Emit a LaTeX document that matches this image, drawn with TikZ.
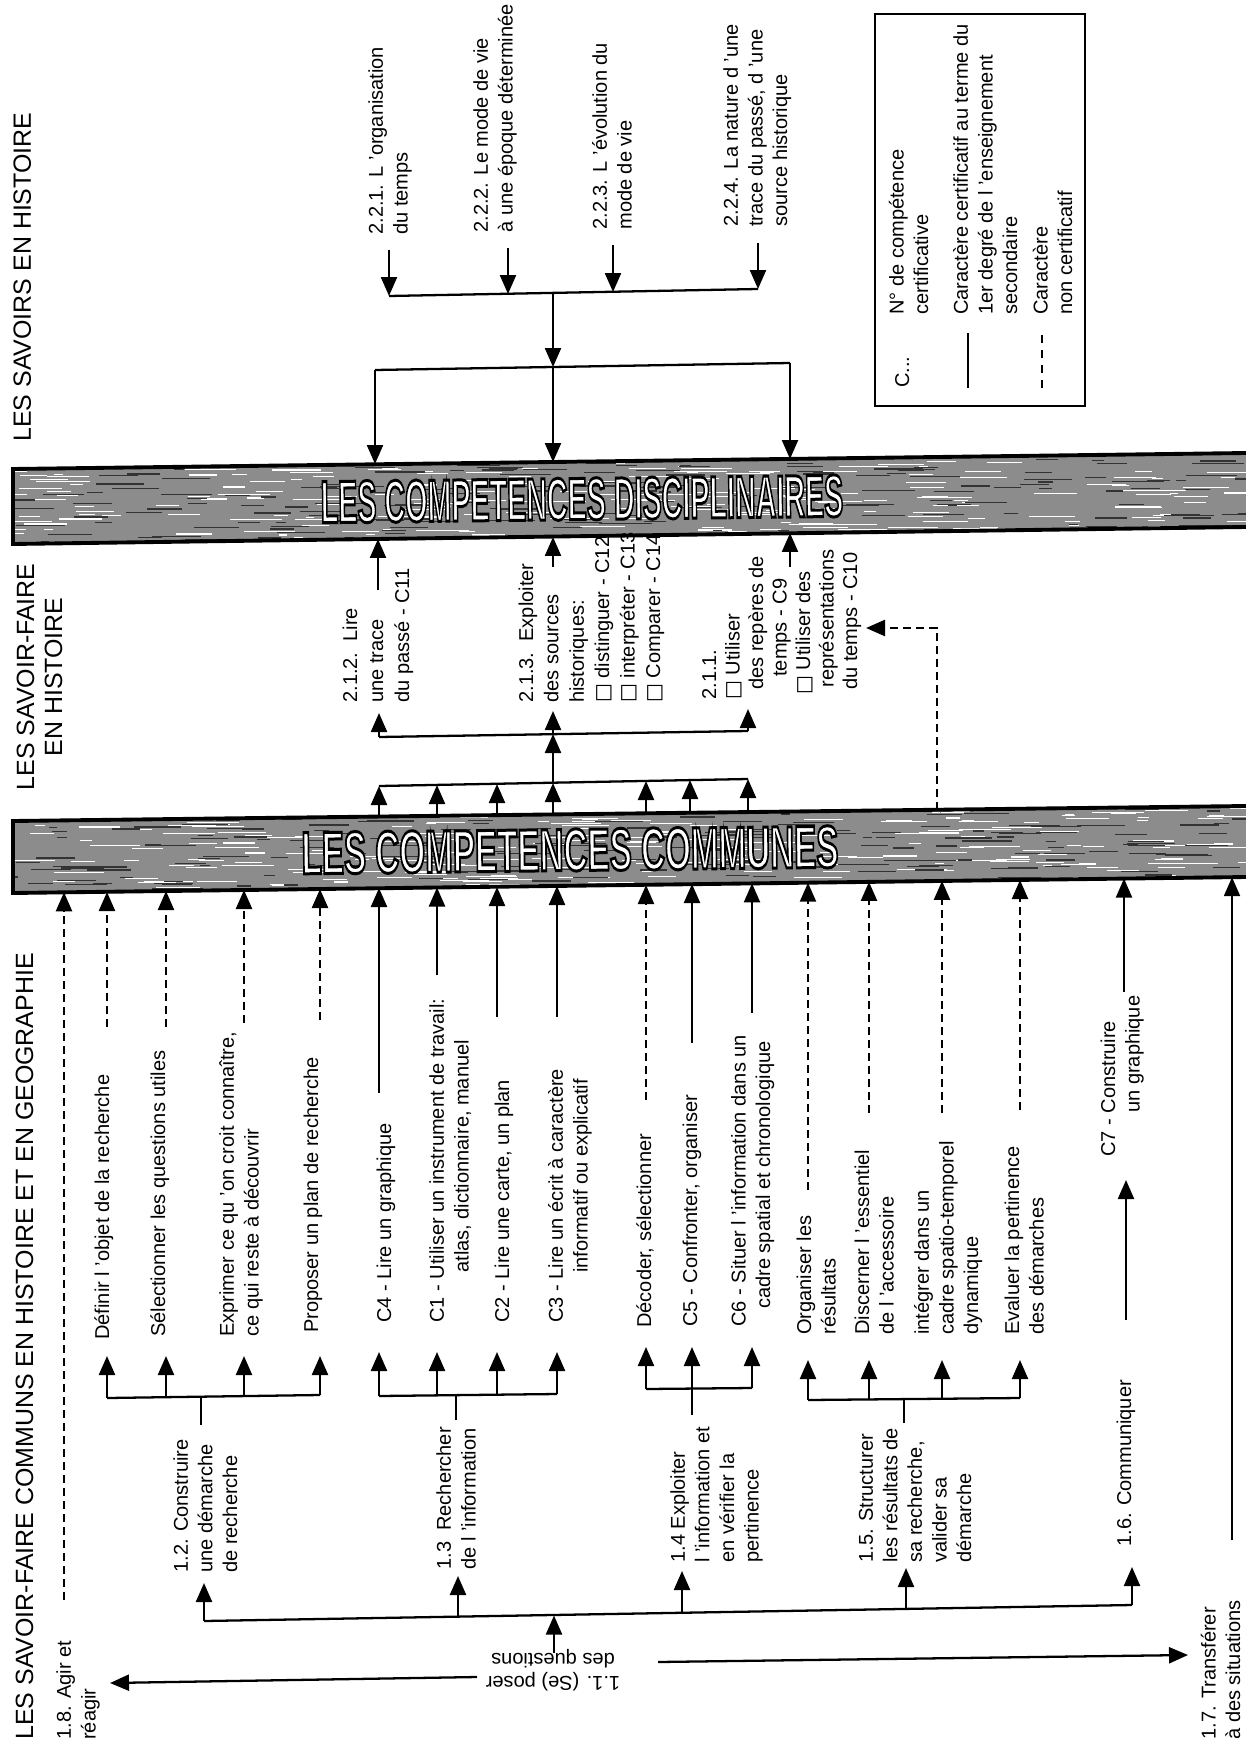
\documentclass[tikz,border=0pt]{standalone}
\usepackage{fontspec}
\setmainfont{Liberation Sans}
\newfontfamily\djv{DejaVu Sans}
\usepackage{graphicx}
\usetikzlibrary{arrows.meta,calc}
\newcommand{\bx}{{\djv □}}
\font\bnfont="Liberation Sans/B:embolden=5" at 34pt
\begin{document}
\begin{tikzpicture}[x=0.02cm,y=-0.02cm,
  ln/.style={line width=1.3pt},
  ar/.style={ln,-{Triangle[length=0.38cm,width=0.32cm]}},
  dl/.style={line width=1.3pt,dash pattern=on 0.16cm off 0.1cm},
  dar/.style={dl,-{Triangle[length=0.38cm,width=0.32cm]}},
  txt/.style={rotate=90,anchor=base west,inner sep=0pt,align=left,font=\fontsize{11.4}{13.95}\selectfont},
  ttl/.style={rotate=90,anchor=base west,inner sep=0pt,align=center,font=\fontsize{14.2}{15.9}\selectfont},
  bannerfill/.style={fill=black!45},
  bannerline/.style={draw=black,line width=2.2pt},
  btxt/.style={inner sep=0pt,rotate=0.7},
]
\useasboundingbox (0,0) rectangle (1246,1743);
\fill[white] (0,0) rectangle (1246,1743);

% ---------------- titles
\node[ttl] (t1) at (31,442) {LES SAVOIRS EN HISTOIRE};
\node[ttl,anchor=base] (t2) at (62,677) {LES SAVOIR-FAIRE\\EN HISTOIRE};
\node[ttl] (t3) at (33,1740) {LES SAVOIR-FAIRE COMMUNS EN HISTOIRE ET EN GEOGRAPHIE};

% ---------------- banners
\coordinate (dTL) at (13,469); \coordinate (dTR) at (1246,453);
\coordinate (dBR) at (1246,527); \coordinate (dBL) at (13,544);
\coordinate (cTL) at (13,821); \coordinate (cTR) at (1246,806);
\coordinate (cBR) at (1246,877); \coordinate (cBL) at (13,893);
\fill[bannerfill] (dTL) -- (dTR) -- (dBR) -- (dBL) -- cycle;
\fill[bannerfill] (cTL) -- (cTR) -- (cBR) -- (cBL) -- cycle;
\pgfmathsetseed{11}
\begin{scope}
  \clip (dTL) -- (dTR) -- (dBR) -- (dBL) -- cycle;
  \foreach \i in {1,...,260}{
    \pgfmathsetmacro{\rx}{rnd*1240}
    \pgfmathsetmacro{\ry}{450+rnd*96}
    \pgfmathsetmacro{\rl}{8+rnd*45}
    \draw[white,line width=0.6pt] (\rx,\ry) -- ++(\rl,0);
  }
  \foreach \i in {1,...,220}{
    \pgfmathsetmacro{\rx}{rnd*1240}
    \pgfmathsetmacro{\ry}{450+rnd*96}
    \pgfmathsetmacro{\rl}{8+rnd*45}
    \draw[black!80,line width=0.7pt] (\rx,\ry) -- ++(\rl,0);
  }
\end{scope}
\begin{scope}
  \clip (cTL) -- (cTR) -- (cBR) -- (cBL) -- cycle;
  \foreach \i in {1,...,260}{
    \pgfmathsetmacro{\rx}{rnd*1240}
    \pgfmathsetmacro{\ry}{804+rnd*90}
    \pgfmathsetmacro{\rl}{8+rnd*45}
    \draw[white,line width=0.6pt] (\rx,\ry) -- ++(\rl,0);
  }
  \foreach \i in {1,...,220}{
    \pgfmathsetmacro{\rx}{rnd*1240}
    \pgfmathsetmacro{\ry}{804+rnd*90}
    \pgfmathsetmacro{\rl}{8+rnd*45}
    \draw[black!80,line width=0.7pt] (\rx,\ry) -- ++(\rl,0);
  }
\end{scope}
\draw[bannerline] (dTR) -- (dTL) -- (dBL) -- (dBR);
\draw[bannerline] (cTR) -- (cTL) -- (cBL) -- (cBR);

\coordinate (dc) at (582,499);
\coordinate (cc) at (570,850);
\node[btxt] (disc) at (dc) {\bnfont\special{pdf:bcolor [1] [0]}\scalebox{0.48}[1]{LES COMPETENCES DISCIPLINAIRES}\special{pdf:ecolor}};
\node[btxt] (comm) at (cc) {\bnfont\special{pdf:bcolor [1] [0]}\scalebox{0.556}[1]{LES COMPETENCES COMMUNES}\special{pdf:ecolor}};

% ---------------- savoirs en histoire
\node[txt] (s221) at (407.5,235) {2.2.1. L 'organisation\\du temps};
\node[txt] (s222) at (512.5,233) {2.2.2. Le mode de vie\\à une époque déterminée};
\node[txt] (s223) at (631.5,230) {2.2.3. L 'évolution du\\mode de vie};
\node[txt] (s224) at (787,227) {2.2.4. La nature d 'une\\trace du passé, d 'une\\source historique};

\coordinate (h1L) at (389,296); \coordinate (h1R) at (758,289); \coordinate (h1M) at (553,293);
\coordinate (h2L) at (375,370); \coordinate (h2R) at (790,363); \coordinate (h2M) at (553,367);
\draw[ln] (h1L) -- (h1R);
\draw[ln] (h2L) -- (h2R);
\foreach \n/\x/\ya/\yb in {1/389/250/296,2/508/248/294,3/613/245/292,4/758/243/289}{
  \coordinate (ts\n) at (\x,\ya); \coordinate (te\n) at (\x,\yb);
  \draw[ar] (ts\n) -- (te\n);
}
\draw[ar] (h1M) -- (h2M);
\coordinate (dt1) at (375,464); \coordinate (dt2) at (553,462); \coordinate (dt3) at (790,459);
\draw[ar] (h2L) -- (dt1);
\draw[ar] (h2M) -- (dt2);
\draw[ar] (h2R) -- (dt3);

% ---------------- legend
\coordinate (lgTL) at (875,14); \coordinate (lgBR) at (1085,406);
\draw[ln] (lgTL) rectangle (lgBR);
\node[txt] (lgC) at (909,388) {C...};
\node[txt] (lgN) at (928,315) {N° de compétence\\certificative};
\node[txt] (lgS) at (1017,315) {Caractère certificatif au terme du\\1er degré de l 'enseignement\\secondaire};
\node[txt] (lgD) at (1072,315) {Caractère\\non certificatif};
\coordinate (lgs1) at (968,388); \coordinate (lgs2) at (968,333);
\coordinate (lgd1) at (1042,388); \coordinate (lgd2) at (1042,333);
\draw[ln] (lgs1) -- (lgs2);
\draw[line width=1.3pt,dash pattern=on 0.16cm off 0.14cm] (lgd1) -- (lgd2);

% ---------------- savoir-faire en histoire
\node[txt,font=\fontsize{11.4}{14.8}\selectfont] (h212) at (409,703) {2.1.2.\ \ Lire\\une trace\\du passé - C11};
\node[txt,font=\fontsize{11.4}{14.45}\selectfont] (h213) at (660,703) {2.1.3.\ \ Exploiter\\des sources\\historiques:\\\bx\ distinguer - C12\\\bx\ interpréter - C13\\\bx\ Comparer - C14};
\node[txt,font=\fontsize{11.4}{13.37}\selectfont] (h211) at (857,700) {2.1.1.\\\bx\ Utiliser\\\hspace*{0.2cm}des repères de\\\hspace*{0.46cm}temps - C9\\\hspace*{0.1cm}\bx\ Utiliser des\\\hspace*{0.24cm}représentations\\\hspace*{0.2cm}du temps - C10};

\coordinate (u1a) at (378,590); \coordinate (u1b) at (378,539);
\coordinate (u2a) at (553,567); \coordinate (u2b) at (553,537);
\coordinate (u3a) at (790,567); \coordinate (u3b) at (790,533);
\draw[ar] (u1a) -- (u1b);
\draw[ar] (u2a) -- (u2b);
\draw[ar] (u3a) -- (u3b);

\coordinate (aL) at (379,737); \coordinate (aR) at (748,731); \coordinate (aM) at (553,734);
\coordinate (bL) at (379,786); \coordinate (bR) at (748,779); \coordinate (bM) at (553,783);
\draw[ln] (aL) -- (aR);
\draw[ln] (bL) -- (bR);
\coordinate (aLt) at (379,713); \coordinate (aMt) at (553,711); \coordinate (aRt) at (748,709);
\draw[ar] (aL) -- (aLt);
\draw[ar] (aM) -- (aMt);
\draw[ar] (aR) -- (aRt);
\draw[ar] (bM) -- (aM);
\foreach \n/\x/\ya/\yb in {1/379/816.6/786,2/437/815.8/785,3/497/815.1/784,4/553/814.4/783,5/646/813.3/781,6/690/812.8/780,7/748/812.1/779}{
  \coordinate (ms\n) at (\x,\ya); \coordinate (me\n) at (\x,\yb);
  \draw[ar] (ms\n) -- (me\n);
}
\coordinate (ds1) at (937,810); \coordinate (ds2) at (937,628); \coordinate (ds3) at (866,628);
\draw[dar] (ds1) -- (ds2) -- (ds3);

% ---------------- savoir-faire communs : competences
\node[txt] (l1) at (109,1340) {Définir l 'objet de la recherche};
\node[txt] (l2) at (165,1337) {Sélectionner les questions utiles};
\node[txt] (l3) at (258.5,1337) {Exprimer ce qu 'on croit connaître,\\ce qui reste à découvrir};
\node[txt] (l4) at (318,1333) {Proposer un plan de recherche};
\node[txt] (l5) at (391,1323) {C4 - Lire un graphique};
\node[txt] (l6) at (468.5,1323) {C1 - Utiliser un instrument de travail:\\\hspace*{1.0cm}atlas, dictionnaire, manuel};
\node[txt] (l7) at (509,1323) {C2 - Lire une carte, un plan};
\node[txt] (l8) at (587.5,1323) {C3 - Lire un écrit à caractère\\\hspace*{1.0cm}informatif ou explicatif};
\node[txt] (l9) at (651,1328) {Décoder, sélectionner};
\node[txt] (l10) at (697,1327) {C5 - Confronter, organiser};
\node[txt] (l11) at (770,1327) {C6 - Situer l 'information dans un\\\hspace*{0.36cm}cadre spatial et chronologique};
\node[txt] (l12) at (835.5,1335) {Organiser les\\résultats};
\node[txt] (l13) at (893.5,1335) {Discerner l 'essentiel\\de l 'accessoire};
\node[txt] (l14) at (978,1335) {intégrer dans un\\cadre spatio-temporel\\dynamique};
\node[txt] (l15) at (1043.5,1335) {Evaluer la pertinence\\des démarches};
\node[txt] (l16) at (1139.5,1157) {C7 - Construire\\\hspace*{0.88cm}un graphique};

\foreach \n/\x/\ya/\yb in {1/107/1027/892,2/166/1027/891,3/244/1023/890,4/320/1020/889,9/646/1100/885,12/808/1190/882.7,13/869/1113/881.9,14/942/1113/880.9,15/1020/1110/880,18/64/1600/892.3}{
  \coordinate (ls\n) at (\x,\ya); \coordinate (le\n) at (\x,\yb);
  \draw[dar] (ls\n) -- (le\n);
}
\foreach \n/\x/\ya/\yb in {5/379/1093/888,6/437/975/887.5,7/497/1017/887,8/557/1017/886,10/692/1043/884,11/752/1013/883.4,16/1124/992/878.6,17/1232/1540/877.2}{
  \coordinate (ls\n) at (\x,\ya); \coordinate (le\n) at (\x,\yb);
  \draw[ar] (ls\n) -- (le\n);
}

% ---------------- branches
% 1.2
\coordinate (g2L) at (107,1398); \coordinate (g2R) at (320,1395);
\coordinate (g2v) at (201,1425); \coordinate (g2j) at (201,1397);
\draw[ln] (g2L) -- (g2R); \draw[ln] (g2v) -- (g2j);
\foreach \n/\x/\y in {1/107/1398,2/166/1397,3/244/1396,4/320/1395}{
  \coordinate (g2s\n) at (\x,\y); \coordinate (g2e\n) at (\x,1356);
  \draw[ar] (g2s\n) -- (g2e\n);
}
% 1.3
\coordinate (g3L) at (379,1396); \coordinate (g3R) at (557,1394);
\coordinate (g3v) at (456,1420); \coordinate (g3j) at (456,1395);
\draw[ln] (g3L) -- (g3R); \draw[ln] (g3v) -- (g3j);
\foreach \n/\x/\y in {1/379/1396,2/437/1395.5,3/497/1394.7,4/557/1394}{
  \coordinate (g3s\n) at (\x,\y); \coordinate (g3e\n) at (\x,1352);
  \draw[ar] (g3s\n) -- (g3e\n);
}
% 1.4
\coordinate (g4L) at (646,1389); \coordinate (g4R) at (752,1388);
\coordinate (g4v) at (692,1415); \coordinate (g4j) at (692,1389);
\draw[ln] (g4L) -- (g4R); \draw[ln] (g4v) -- (g4j);
\foreach \n/\x/\y in {1/646/1389,2/692/1389,3/752/1388}{
  \coordinate (g4s\n) at (\x,\y); \coordinate (g4e\n) at (\x,1347);
  \draw[ar] (g4s\n) -- (g4e\n);
}
% 1.5
\coordinate (g5L) at (808,1400); \coordinate (g5R) at (1020,1398);
\coordinate (g5v) at (904,1423); \coordinate (g5j) at (904,1399);
\draw[ln] (g5L) -- (g5R); \draw[ln] (g5v) -- (g5j);
\foreach \n/\x/\y in {1/808/1400,2/869/1399.4,3/942/1398.7,4/1020/1398}{
  \coordinate (g5s\n) at (\x,\y); \coordinate (g5e\n) at (\x,1360);
  \draw[ar] (g5s\n) -- (g5e\n);
}

% ---------------- savoir-faire communs : main
\node[txt] (b12) at (237,1573) {1.2. Construire\\une démarche\\de recherche};
\node[txt] (b13) at (475.5,1570) {1.3\ \ Rechercher\\de l 'information};
\node[txt] (b14) at (758.5,1563) {1.4 Exploiter\\l 'information et\\en vérifier la\\pertinence};
\node[txt] (b15) at (971,1563) {1.5. Structurer\\les résultats de\\sa recherche,\\valider sa\\démarche};
\node[txt] (b16) at (1131,1547) {1.6. Communiquer};
\node[txt] (b17) at (1240,1740) {1.7. Transférer\\à des situations};
\node[txt] (b18) at (95.5,1740) {1.8. Agir et\\réagir};
\node[rotate=180,align=center,inner sep=0pt,font=\fontsize{11.4}{13}\selectfont] (b11) at (553,1670) {1.1. (Se) poser\\des questions};

\coordinate (mL) at (204,1621); \coordinate (mR) at (1132,1605);
\draw[ln] (mL) -- (mR);
\foreach \n/\x/\ya/\yb in {2/204/1621/1583,3/458/1616.6/1576,4/682/1612.8/1571,5/906/1608.9/1568,6/1132/1605/1567}{
  \coordinate (ms\n x) at (\x,\ya); \coordinate (me\n x) at (\x,\yb);
  \draw[ar] (ms\n x) -- (me\n x);
}
\coordinate (q1) at (554,1653); \coordinate (q2) at (554,1615.5);
\draw[ar] (q1) -- (q2);
\coordinate (q3) at (477,1677); \coordinate (q4) at (110,1683);
\draw[ar] (q3) -- (q4);
\coordinate (q5) at (658,1662); \coordinate (q6) at (1188,1655);
\draw[ar] (q5) -- (q6);
\coordinate (q7) at (1126,1320); \coordinate (q8) at (1126,1180);
\draw[ar] (q7) -- (q8);

\end{tikzpicture}
\end{document}
